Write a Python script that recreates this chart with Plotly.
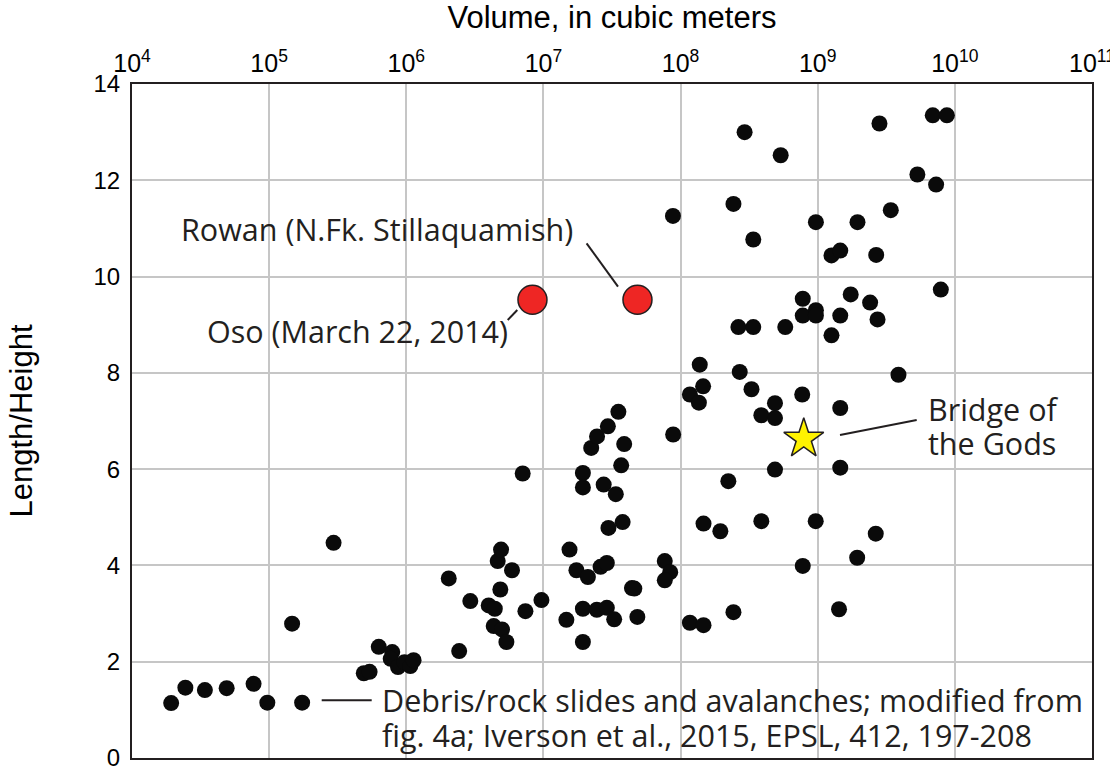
import plotly.graph_objects as go

# ---------------- data ----------------
volume_m3 = [
    1.93e4, 2.45e4, 3.4e4, 4.9e4, 7.7e4, 9.7e4, 1.74e5, 1.47e5, 2.95e5, 4.9e5,
    5.4e5, 6.3e5, 7.9e5, 7.7e5, 8.7e5, 9.7e5, 1.07e6, 1.13e6, 2.04e6, 2.43e6,
    2.93e6, 3.99e6, 4.42e6, 4.34e6, 4.99e6, 5.37e6, 4.85e6, 4.64e6, 4.91e6, 5.90e6,
    7.39e6, 9.67e6, 7.06e6, 1.55e7, 1.74e7, 2.11e7, 1.47e7, 1.94e7, 1.94e7, 2.61e7,
    2.90e7, 2.45e7, 2.90e7, 3.28e7, 4.84e7, 4.42e7, 4.6e7, 3.78e7, 2.98e7, 1.94e7,
    1.94e7, 2.75e7, 3.37e7, 3.69e7, 3.88e7, 2.23e7, 2.46e7, 2.95e7, 3.52e7, 7.67e7,
    8.4e7, 7.67e7, 1.17e8, 1.47e8, 2.43e8, 1.47e8, 1.95e8, 3.88e8, 9.67e8, 2.65e9,
    1.94e9, 7.78e8, 1.43e9, 8.83e7, 1.38e8, 1.46e8, 1.17e8, 1.36e8, 2.70e8, 3.29e8,
    4.88e8, 3.88e8, 4.88e8, 4.88e8, 2.23e8, 7.71e8, 1.26e9, 3.88e9, 1.46e9, 1.46e9,
    2.93e8, 5.37e8, 2.82e9, 6.9e9, 8.75e9, 5.33e9, 7.3e9, 3.41e9, 1.95e9, 9.7e8,
    2.43e8, 8.8e7, 3.39e8, 1.26e9, 1.46e9, 2.67e9, 7.9e9, 1.74e9, 2.41e9, 2.73e9,
    7.78e8, 7.78e8, 9.7e8, 9.7e8, 1.46e9, 2.64e8, 3.39e8, 5.8e8,
]
length_height = [
    1.14, 1.46, 1.41, 1.45, 1.54, 1.15, 1.15, 2.79, 4.47, 1.76,
    1.79, 2.31, 2.20, 2.06, 1.89, 1.99, 1.91, 2.03, 3.73, 2.22,
    3.26, 3.17, 3.10, 2.74, 2.67, 2.41, 3.50, 4.09, 4.33, 3.90,
    3.05, 3.28, 5.91, 4.33, 3.90, 3.76, 2.87, 3.10, 2.41, 3.97,
    4.05, 3.08, 3.12, 2.88, 2.93, 3.53, 3.52, 4.90, 4.78, 5.92,
    5.62, 5.68, 5.48, 6.08, 6.52, 6.44, 6.68, 6.89, 7.19, 4.09,
    3.86, 3.69, 2.81, 2.76, 3.03, 4.87, 4.71, 4.92, 4.92, 4.66,
    4.16, 3.99, 3.09, 6.72, 8.17, 7.72, 7.55, 7.38, 8.02, 7.66,
    7.37, 7.12, 7.06, 5.99, 5.75, 7.55, 8.78, 7.96, 7.27, 6.03,
    13.00, 12.52, 13.18, 13.35, 13.35, 12.12, 11.91, 11.38, 11.13, 11.13,
    11.51, 11.26, 10.77, 10.44, 10.54, 10.45, 9.73, 9.63, 9.46, 9.11,
    9.54, 9.19, 9.30, 9.19, 9.19, 8.95, 8.95, 8.95,
]

wa_names = ["Oso (March 22, 2014)", "Rowan (N.Fk. Stillaquamish)"]
wa_volume = [8.32e6, 4.85e7]
wa_ratio = [9.52, 9.52]

bridge_volume = [7.91e8]
bridge_ratio = [6.63]

x_tick_vals = [1e4, 1e5, 1e6, 1e7, 1e8, 1e9, 1e10, 1e11]
x_tick_text = ["10<sup>%d</sup>" % e for e in range(4, 12)]
y_tick_vals = [0, 2, 4, 6, 8, 10, 12, 14]

# ---------------- layout helpers ----------------
W, H = 1110, 773
ML, MR, MT, MB = 132, 18, 84, 15
PW, PH = W - ML - MR, H - MT - MB


def px(x):
    return (x - ML) / PW


def py(y):
    return (H - MB - y) / PH


AXIS_FONT = "Liberation Sans, Arial, Helvetica, sans-serif"
NOTE_FONT = "Open Sans, Noto Sans, sans-serif"
INK = "#231f20"

fig = go.Figure()
fig.add_trace(go.Scatter(
    x=volume_m3, y=length_height, mode="markers",
    marker=dict(size=16, color="#0a0a0a", line=dict(width=0)),
    name="Debris/rock slides and avalanches", showlegend=False,
))
fig.add_trace(go.Scatter(
    x=wa_volume, y=wa_ratio, mode="markers", text=wa_names,
    marker=dict(size=29, color="#ee2624", line=dict(width=1.5, color=INK)),
    showlegend=False,
))
fig.add_trace(go.Scatter(
    x=bridge_volume, y=bridge_ratio, mode="markers",
    marker=dict(symbol="star", size=30, color="#fff200", line=dict(width=1.5, color=INK)),
    showlegend=False,
))

fig.update_layout(
    width=W, height=H,
    margin=dict(l=ML, r=MR, t=MT, b=MB, autoexpand=False),
    paper_bgcolor="white", plot_bgcolor="white",
    font=dict(family=AXIS_FONT, color="black"),
    xaxis=dict(
        type="log", range=[4, 11], side="top",
        tickvals=x_tick_vals, ticktext=x_tick_text,
        tickfont=dict(size=25, family=AXIS_FONT, color="black"),
        ticklabeloverflow="allow",
        showgrid=True, gridcolor="#c6c6c6", gridwidth=2,
        showline=True, linecolor=INK, linewidth=2, mirror=True,
        ticks="", zeroline=False, automargin=False,
        title=dict(text="Volume, in cubic meters", font=dict(size=31, family=AXIS_FONT, color="black"), standoff=14),
    ),
    yaxis=dict(
        range=[0, 14], tickvals=y_tick_vals,
        tickfont=dict(size=24, family=AXIS_FONT, color="black"),
        showgrid=True, gridcolor="#c6c6c6", gridwidth=2,
        showline=True, linecolor=INK, linewidth=2, mirror=True,
        ticks="", zeroline=False, automargin=False, ticklabelstandoff=5,
        title=dict(text="Length/Height", font=dict(size=31, family=AXIS_FONT, color="black"), standoff=52),
    ),
)

notes = [
    (179, 229, "Rowan (N.Fk. Stillaquamish)"),
    (205, 331, "Oso (March 22, 2014)"),
    (926, 409, "Bridge of"),
    (926, 443, "the Gods"),
    (380, 700, "Debris/rock slides and avalanches; modified from"),
    (380, 735, "fig. 4a; Iverson et al., 2015, EPSL, 412, 197-208"),
]
for x, y, t in notes:
    fig.add_annotation(
        x=px(x), y=py(y), xref="paper", yref="paper", text=t, showarrow=False,
        xanchor="left", yanchor="middle", align="left",
        font=dict(family=NOTE_FONT, size=30.5, color=INK),
    )

leaders = [
    ((586.6, 243.3), (618.0, 286.7)),
    ((507.7, 320.0), (517.3, 310.0)),
    ((840.0, 435.0), (916.7, 420.0)),
    ((321.7, 700.3), (371.7, 700.3)),
]
for (x0, y0), (x1, y1) in leaders:
    fig.add_shape(type="line", xref="paper", yref="paper",
                  x0=px(x0), y0=py(y0), x1=px(x1), y1=py(y1),
                  line=dict(color=INK, width=2))

fig.write_html("out.html")
